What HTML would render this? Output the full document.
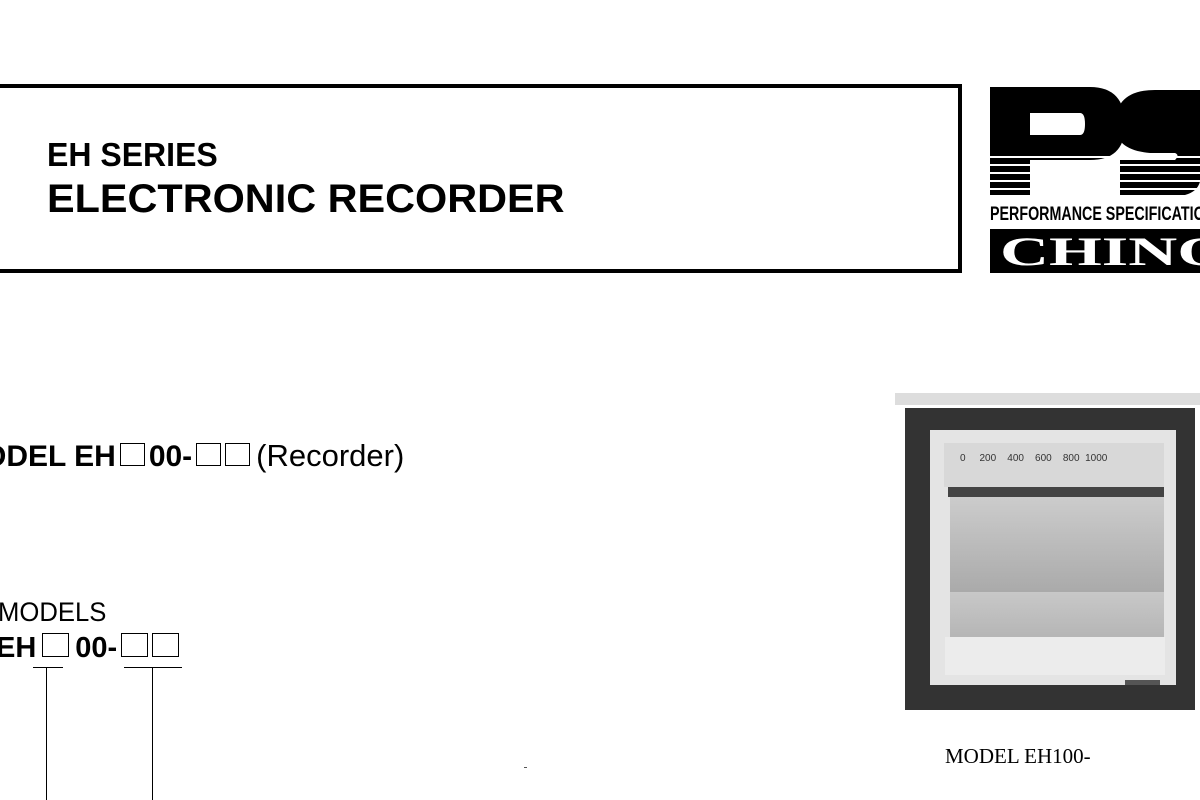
<!DOCTYPE html>
<html><head><style>
body{margin:0;width:1200px;height:800px;background:#fff;position:relative;overflow:hidden;font-family:"Liberation Sans",sans-serif;color:#000}
.a{position:absolute;white-space:nowrap}
.bx{display:inline-block;border:1.5px solid #000;box-sizing:border-box;vertical-align:baseline}
</style></head><body>
<div class="a" style="left:-6px;top:84px;width:960px;height:181px;border:4px solid #000;box-sizing:content-box"></div>
<div class="a" style="left:47px;top:136px;font-size:33px;font-weight:bold;transform:scaleX(.97);transform-origin:left">EH SERIES</div>
<div class="a" style="left:47px;top:177px;font-size:40px;font-weight:bold;transform:scaleX(1.035);transform-origin:left">ELECTRONIC RECORDER</div>

<!-- logo -->
<div class="a" style="left:990px;top:85px;width:210px;height:190px;overflow:hidden">
<svg width="210" height="190">
<path d="M0 2 H100 Q135 2 135 40 Q135 75 100 75 H40 V110 H0 Z M40 28 V50 H90 Q95 50 95 39 Q95 28 90 28 Z" fill="#000" fill-rule="evenodd"/>
<path d="M210 5 H165 Q125 5 125 40 Q125 65 160 68 H185 Q190 70 185 75 H130 V110 H195 Q215 105 210 80 Z" fill="#000"/>
<g stroke="#fff" stroke-width="2"><line x1="0" y1="72" x2="210" y2="72"/><line x1="0" y1="80" x2="210" y2="80"/><line x1="0" y1="88" x2="210" y2="88"/><line x1="0" y1="96" x2="210" y2="96"/><line x1="0" y1="104" x2="210" y2="104"/></g>
<text x="0" y="135" font-family="Liberation Sans" font-weight="bold" font-size="19" textLength="225" lengthAdjust="spacingAndGlyphs">PERFORMANCE SPECIFICATION</text>
<rect x="0" y="144" width="210" height="44" fill="#000"/>
<text x="10" y="180" font-family="Liberation Serif" font-weight="bold" font-size="40" fill="#fff" textLength="230" lengthAdjust="spacingAndGlyphs">CHINO</text>
</svg></div>

<div class="a" style="left:-17px;top:438px;font-size:30px;font-weight:bold">ODEL EH<span class="bx" style="width:25px;height:23px;margin:0 4px"></span>00-<span class="bx" style="width:25px;height:23px;margin-left:4px"></span><span class="bx" style="width:25px;height:23px;margin:0 6px 0 4px"></span><span style="font-weight:normal;font-size:31px">(Recorder)</span></div>

<div class="a" style="left:-2px;top:597px;font-size:27px;transform:scaleX(.95);transform-origin:left">MODELS</div>
<div class="a" style="left:-4px;top:632px;font-size:29px;font-weight:bold">EH<span class="bx" style="width:27px;height:24px;margin:0 6px"></span>00-<span class="bx" style="width:27px;height:24px;margin-left:4px"></span><span class="bx" style="width:27px;height:24px;margin-left:4px"></span></div>
<div class="a" style="left:33px;top:667px;width:30px;border-top:1px solid #000"></div>
<div class="a" style="left:124px;top:667px;width:58px;border-top:1px solid #000"></div>
<div class="a" style="left:46px;top:668px;height:132px;border-left:1.5px solid #000"></div>
<div class="a" style="left:152px;top:668px;height:132px;border-left:1.5px solid #000"></div>
<div class="a" style="left:524px;top:767px;width:3px;height:1px;background:#555"></div>

<!-- photo -->
<div class="a" style="left:895px;top:393px;width:305px;height:12px;background:#ddd"></div>
<div class="a" style="left:905px;top:408px;width:290px;height:302px;background:#333"></div>
<div class="a" style="left:930px;top:430px;width:246px;height:255px;background:#e4e4e4"></div>
<div class="a" style="left:944px;top:443px;width:220px;height:44px;background:#d8d8d8;font-size:10px;color:#333">
<span style="position:absolute;left:16px;top:10px">0 &nbsp;&nbsp;&nbsp;&nbsp;200 &nbsp;&nbsp;&nbsp;400 &nbsp;&nbsp;&nbsp;600 &nbsp;&nbsp;&nbsp;800 &nbsp;1000</span></div>
<div class="a" style="left:948px;top:487px;width:216px;height:10px;background:#444"></div>
<div class="a" style="left:950px;top:497px;width:214px;height:95px;background:linear-gradient(#ccc,#aaa)"></div>
<div class="a" style="left:950px;top:592px;width:214px;height:46px;background:linear-gradient(#c8c8c8,#b5b5b5)"></div>
<div class="a" style="left:945px;top:637px;width:220px;height:38px;background:#ececec"></div>
<div class="a" style="left:1125px;top:680px;width:35px;height:5px;background:#555"></div>

<div class="a" style="left:945px;top:744px;font-family:'Liberation Serif',serif;font-size:21px">MODEL EH100-</div>
</body></html>
